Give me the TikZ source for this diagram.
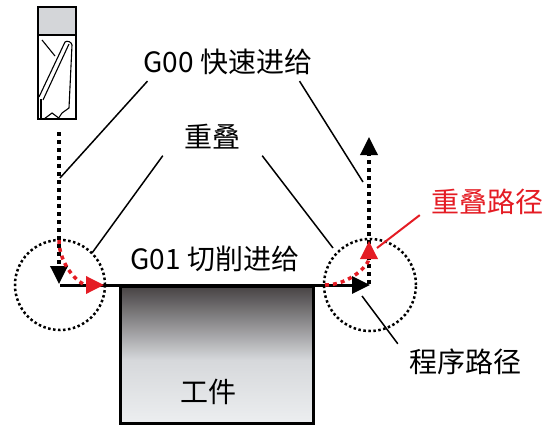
\documentclass[tikz,border=0pt]{standalone}
\usepackage{fontspec}
\usepackage{tikz}
\usetikzlibrary{calc,arrows.meta}
\newfontfamily\cjk{Noto Sans CJK SC}
\definecolor{PATHRED}{RGB}{228,28,36}
\definecolor{SHANKGRAY}{RGB}{212,214,217}
\definecolor{PARTTOP}{RGB}{70,66,67}
\definecolor{PARTMID}{RGB}{214,216,219}
\definecolor{PARTLOW}{RGB}{236,238,240}

\begin{document}
\begin{tikzpicture}[x=1pt,y=-1pt,
    callout/.style={font=\cjk\fontsize{28}{30}\selectfont,inner sep=0pt},
    leader/.style={line width=1.5pt},
    rapid/.style={line width=3.5pt,dash pattern=on 4pt off 4pt},
    zone/.style={line width=2.5pt,dash pattern=on 2.5pt off 2.5pt},
    overlap/.style={PATHRED,line width=3.5pt,dash pattern=on 4pt off 4pt},
    bigtip/.style={-{Triangle[length=18pt,width=17pt]}}]
  \useasboundingbox (0,0) rectangle (545,425);

  %% End mill: shank and flutes
  \fill[SHANKGRAY] (38,7) rectangle (76,35);
  \draw[line width=1.3pt] (38,7) rectangle (76,119);
  \draw[line width=1.3pt] (38,35) -- (76,35);
  \draw[line width=1.1pt] (42,40) -- (55,56);
  \draw[line width=1.1pt] (39,97) -- (65,42) to[bend left=60] (72,45) -- (69,108) -- (62,113) -- (58,119);
  \draw[line width=1.1pt] (43,100) -- (69,44);
  \draw[line width=1.1pt] (41,99) -- (41,119);
  \draw[line width=1.1pt] (44,119) -- (52,113) -- (60,119);

  %% Workpiece
  \shade[top color=PARTTOP,bottom color=PARTMID] (120,286) rectangle (313,360);
  \shade[top color=PARTMID,bottom color=PARTLOW] (120,360) rectangle (313,423);
  \draw[line width=3pt] (120,286) rectangle (313,423);
  \node[callout] (WORK) at (208,392) {工件};

  %% Corners of the programmed path and their zones
  \coordinate (LC) at (60,285);
  \coordinate (RC) at (370,285);
  \draw[zone] (LC) circle[radius=45pt];
  \draw[zone] (RC) circle[radius=46pt];

  %% Rapid moves in and out
  \coordinate (DOWNSTART) at (59,132);
  \coordinate (UPEND) at (369,137);
  \draw[rapid,bigtip] (DOWNSTART) -- ($(LC)+(-1,-1)$);
  \draw[rapid,bigtip] ($(RC)+(-1,-1)$) -- (UPEND);

  %% Cutting move
  \draw[line width=3pt,bigtip] (LC) -- (RC);

  %% Blended paths at the corners
  \draw[overlap,bigtip] (59,240) arc[start angle=180,end angle=270,radius=45pt];
  \draw[overlap,bigtip] (325,285) arc[start angle=270,end angle=360,radius=44pt];

  %% Labels
  \node[callout] (G00) at (228,62) {G00 快速进给};
  \node[callout] (OVERLAP) at (212,137) {重叠};
  \node[callout] (G01) at (215,259) {G01 切削进给};
  \node[callout,text=PATHRED] (OVPATH) at (487,202) {重叠路径};
  \node[callout] (PROG) at (465,362) {程序路径};

  %% Leader lines
  \coordinate (G00A) at (60,178);
  \coordinate (G00B) at (363,182);
  \coordinate (OVA) at (92,253);
  \coordinate (OVB) at (333,248);
  \coordinate (PROGA) at (362,296);
  \coordinate (OVPA) at (377,248);
  \draw[leader] ($(G00.south west)+(4,6)$) -- (G00A);
  \draw[leader] ($(G00.south east)+(-13,6)$) -- (G00B);
  \draw[leader] ($(OVERLAP.south west)+(-21,6)$) -- (OVA);
  \draw[leader] ($(OVERLAP.south east)+(22,6)$) -- (OVB);
  \draw[leader] ($(PROG.north west)+(-11,-5)$) -- (PROGA);
  \draw[leader,PATHRED,line width=2pt] ($(OVPATH.south west)+(-11,0)$) -- (OVPA);
\end{tikzpicture}
\end{document}
